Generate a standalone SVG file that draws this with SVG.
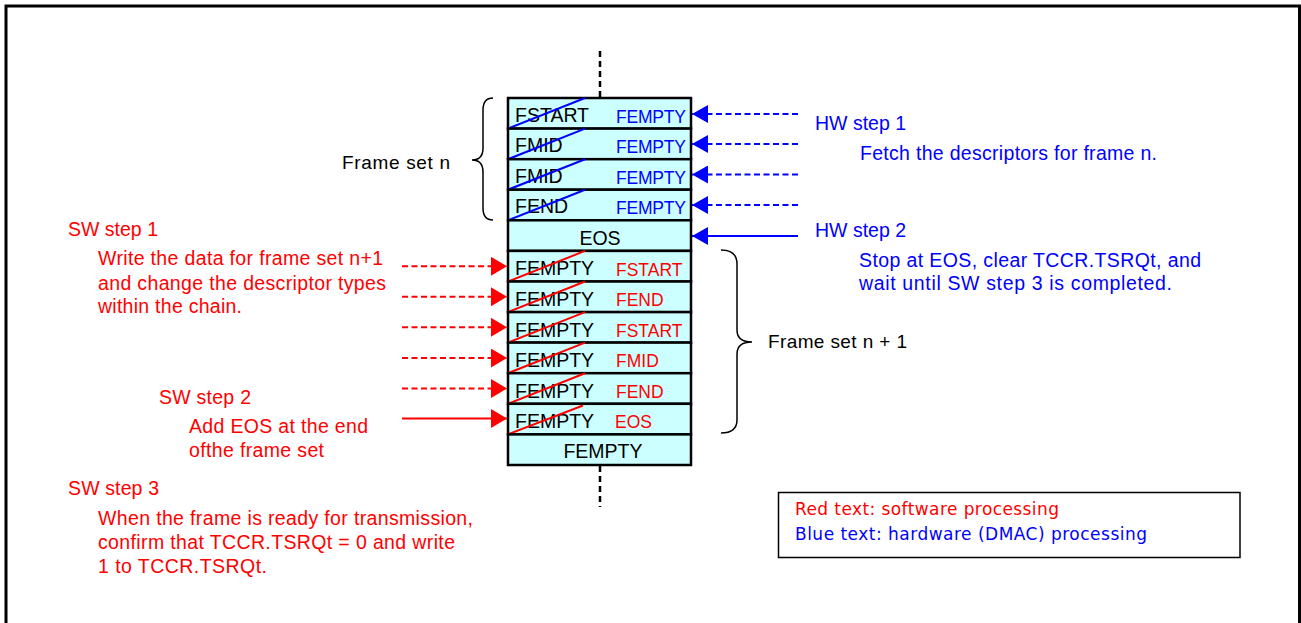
<svg xmlns="http://www.w3.org/2000/svg" width="1301" height="623" viewBox="0 0 1301 623">
<style>
  text { font-family: "Liberation Sans", Arial, sans-serif; }
  .red { fill: #FF0000; font-size: 19.5px; }
  .blue { fill: #0000FF; font-size: 19.5px; }
  .blk { fill: #000000; font-size: 19px; }
  .lbl { fill: #000000; font-size: 19.5px; }
  .rlbl { fill: #FF0000; font-size: 17.5px; }
  .blbl { fill: #0000FF; font-size: 17.5px; }
  .row { fill: #CCFFFF; stroke: #000000; stroke-width: 2.5; }
  .sb { stroke: #0000FF; stroke-width: 2; }
  .sr { stroke: #FF0000; stroke-width: 2; }
  .legend { font-family: "DejaVu Sans", Tahoma, sans-serif; font-size: 17px; }
  .brace { fill: none; stroke: #000000; stroke-width: 1.5; }
</style>
<defs>
  <marker id="ab" markerUnits="userSpaceOnUse" markerWidth="16" markerHeight="18" refX="16" refY="9" orient="auto">
    <path d="M0,0 L16,9 L0,18 Z" fill="#0000FF"/>
  </marker>
  <marker id="ar" markerUnits="userSpaceOnUse" markerWidth="16" markerHeight="19" refX="16" refY="9.5" orient="auto">
    <path d="M0,0 L16,9.5 L0,19 Z" fill="#FF0000"/>
  </marker>
</defs>
<rect x="0" y="0" width="1301" height="623" fill="#FFFFFF"/>
<rect id="frame" x="6" y="6" width="1293.5" height="640" fill="none" stroke="#000000" stroke-width="3"/>

<g id="chain-dashes" stroke="#000000" stroke-width="2.5" stroke-dasharray="6,4">
  <line x1="600" y1="51" x2="600" y2="98"/>
  <line x1="600" y1="466" x2="600" y2="507"/>
</g>

<g id="stack">
  <g id="row0"><rect class="row" x="508" y="98" width="183" height="30.6"/>
    <text class="lbl" x="515" y="121.7">FSTART</text><text class="blbl" x="616" y="122.7" textLength="70" lengthAdjust="spacing">FEMPTY</text>
    <line class="sb" x1="508" y1="128.6" x2="585" y2="98"/></g>
  <g id="row1"><rect class="row" x="508" y="128.6" width="183" height="30.6"/>
    <text class="lbl" x="515" y="152.3">FMID</text><text class="blbl" x="616" y="153.3" textLength="70" lengthAdjust="spacing">FEMPTY</text>
    <line class="sb" x1="508" y1="159.2" x2="585" y2="128.6"/></g>
  <g id="row2"><rect class="row" x="508" y="159.2" width="183" height="30.5"/>
    <text class="lbl" x="515" y="182.9">FMID</text><text class="blbl" x="616" y="183.9" textLength="70" lengthAdjust="spacing">FEMPTY</text>
    <line class="sb" x1="508" y1="189.7" x2="585" y2="159.2"/></g>
  <g id="row3"><rect class="row" x="508" y="189.7" width="183" height="30.6"/>
    <text class="lbl" x="515" y="213.4">FEND</text><text class="blbl" x="616" y="214.4" textLength="70" lengthAdjust="spacing">FEMPTY</text>
    <line class="sb" x1="508" y1="220.3" x2="585" y2="189.7"/></g>
  <g id="row4"><rect class="row" x="508" y="220.3" width="183" height="30.6"/>
    <text class="lbl" x="600" y="244.5" text-anchor="middle">EOS</text></g>
  <g id="row5"><rect class="row" x="508" y="250.9" width="183" height="30.6"/>
    <text class="lbl" x="515" y="275.4">FEMPTY</text><text class="rlbl" x="616" y="275.6">FSTART</text>
    <line class="sr" x1="508" y1="281.5" x2="585" y2="250.9"/></g>
  <g id="row6"><rect class="row" x="508" y="281.5" width="183" height="30.6"/>
    <text class="lbl" x="515" y="306">FEMPTY</text><text class="rlbl" x="616" y="306.2">FEND</text>
    <line class="sr" x1="508" y1="312.1" x2="585" y2="281.5"/></g>
  <g id="row7"><rect class="row" x="508" y="312.1" width="183" height="30.5"/>
    <text class="lbl" x="515" y="336.6">FEMPTY</text><text class="rlbl" x="616" y="336.8">FSTART</text>
    <line class="sr" x1="508" y1="342.6" x2="585" y2="312.1"/></g>
  <g id="row8"><rect class="row" x="508" y="342.6" width="183" height="30.6"/>
    <text class="lbl" x="515" y="367.1">FEMPTY</text><text class="rlbl" x="616" y="367.3">FMID</text>
    <line class="sr" x1="508" y1="373.2" x2="585" y2="342.6"/></g>
  <g id="row9"><rect class="row" x="508" y="373.2" width="183" height="30.6"/>
    <text class="lbl" x="515" y="397.7">FEMPTY</text><text class="rlbl" x="616" y="397.9">FEND</text>
    <line class="sr" x1="508" y1="403.8" x2="585" y2="373.2"/></g>
  <g id="row10"><rect class="row" x="508" y="403.8" width="183" height="30.6"/>
    <text class="lbl" x="515" y="428.3">FEMPTY</text><text class="rlbl" x="615" y="428.3">EOS</text>
    <line class="sr" x1="508" y1="434.4" x2="583" y2="405.5"/></g>
  <g id="row11"><rect class="row" x="508" y="434.4" width="183" height="30.6"/>
    <text class="lbl" x="603" y="458.3" text-anchor="middle">FEMPTY</text></g>
</g>

<g id="braces">
  <path class="brace" d="M493,98 Q483,98 483,110 L483,148 Q483,160 472,160 Q483,160 483,172 L483,208 Q483,220 493,220"/>
  <path class="brace" d="M721,250 Q737,250 737,264 L737,330 Q737,342 752,342 Q737,342 737,354 L737,420 Q737,433 721,433"/>
</g>
<g id="brace-labels">
  <text class="blk" x="342" y="169" textLength="108" lengthAdjust="spacing">Frame set n</text>
  <text class="blk" x="768" y="348" textLength="139" lengthAdjust="spacing">Frame set n + 1</text>
</g>

<g id="connectors" stroke-width="2">
  <g stroke="#0000FF" stroke-dasharray="6,3.5">
    <line x1="798" y1="114" x2="692" y2="114" marker-end="url(#ab)"/>
    <line x1="798" y1="144" x2="692" y2="144" marker-end="url(#ab)"/>
    <line x1="798" y1="174.5" x2="692" y2="174.5" marker-end="url(#ab)"/>
    <line x1="798" y1="205" x2="692" y2="205" marker-end="url(#ab)"/>
  </g>
  <line stroke="#0000FF" x1="798" y1="236" x2="692" y2="236" marker-end="url(#ab)"/>
  <g stroke="#FF0000" stroke-dasharray="6,3.5">
    <line x1="402" y1="266.3" x2="507" y2="266.3" marker-end="url(#ar)"/>
    <line x1="402" y1="296.8" x2="507" y2="296.8" marker-end="url(#ar)"/>
    <line x1="402" y1="327.3" x2="507" y2="327.3" marker-end="url(#ar)"/>
    <line x1="402" y1="358" x2="507" y2="358" marker-end="url(#ar)"/>
    <line x1="402" y1="388.5" x2="507" y2="388.5" marker-end="url(#ar)"/>
  </g>
  <line stroke="#FF0000" x1="402" y1="418.5" x2="507" y2="418.5" marker-end="url(#ar)"/>
</g>

<g id="sw-steps">
  <text class="red" x="68" y="236" textLength="90" lengthAdjust="spacing">SW step 1</text>
  <text class="red" x="98" y="265" textLength="285" lengthAdjust="spacing">Write the data for frame set n+1</text>
  <text class="red" x="98" y="290" textLength="288" lengthAdjust="spacing">and change the descriptor types</text>
  <text class="red" x="98" y="313" textLength="144" lengthAdjust="spacing">within the chain.</text>
  <text class="red" x="159" y="404" textLength="92" lengthAdjust="spacing">SW step 2</text>
  <text class="red" x="189" y="433" textLength="179" lengthAdjust="spacing">Add EOS at the end</text>
  <text class="red" x="189" y="457" textLength="135" lengthAdjust="spacing">ofthe frame set</text>
  <text class="red" x="68" y="495" textLength="91" lengthAdjust="spacing">SW step 3</text>
  <text class="red" x="98" y="525" textLength="375" lengthAdjust="spacing">When the frame is ready for transmission,</text>
  <text class="red" x="98" y="549" textLength="357" lengthAdjust="spacing">confirm that TCCR.TSRQt = 0 and write</text>
  <text class="red" x="98" y="573" textLength="169" lengthAdjust="spacing">1 to TCCR.TSRQt.</text>
</g>

<g id="hw-steps">
  <text class="blue" x="815" y="130" textLength="91" lengthAdjust="spacing">HW step 1</text>
  <text class="blue" x="860" y="160" textLength="297" lengthAdjust="spacing">Fetch the descriptors for frame n.</text>
  <text class="blue" x="815" y="237" textLength="91" lengthAdjust="spacing">HW step 2</text>
  <text class="blue" x="859" y="266.5" textLength="342" lengthAdjust="spacing">Stop at EOS, clear TCCR.TSRQt, and</text>
  <text class="blue" x="859" y="290" textLength="313" lengthAdjust="spacing">wait until SW step 3 is completed.</text>
</g>

<g id="legend">
  <rect x="778.5" y="492.5" width="461.5" height="65" fill="#FFFFFF" stroke="#000000" stroke-width="1.5"/>
  <text class="legend" x="795" y="515" fill="#FF0000" textLength="264" lengthAdjust="spacing">Red text: software processing</text>
  <text class="legend" x="795" y="540" fill="#0000FF" textLength="352" lengthAdjust="spacing">Blue text: hardware (DMAC) processing</text>
</g>
</svg>
